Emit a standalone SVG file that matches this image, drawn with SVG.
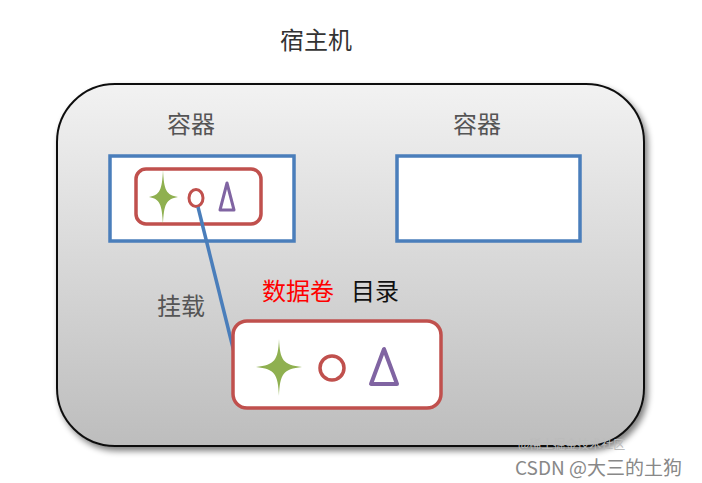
<svg xmlns="http://www.w3.org/2000/svg" width="702" height="483" viewBox="0 0 702 483">
<style>
.t{font-family:"Noto Sans CJK SC","Noto Sans",sans-serif;}
.blue{fill:#fff;stroke:#4a7ebb;stroke-width:3.5}
.red{fill:#fff;stroke:#c0504d;stroke-width:3.5}
.star{fill:#8fb050}
</style>
<defs>
<linearGradient id="g" x1="0" y1="0" x2="0" y2="1">
<stop offset="0" stop-color="#f2f2f2"/>
<stop offset="1" stop-color="#bdbdbd"/>
</linearGradient>
<filter id="sh" x="-10%" y="-10%" width="120%" height="120%">
<feGaussianBlur in="SourceAlpha" stdDeviation="3"/>
<feOffset dx="3" dy="4"/>
<feComponentTransfer><feFuncA type="linear" slope="0.5"/></feComponentTransfer>
<feMerge><feMergeNode/><feMergeNode in="SourceGraphic"/></feMerge>
</filter>
</defs>
<rect width="702" height="483" fill="#fff"/>
<text class="t" x="316" y="49" font-size="24" fill="#333" text-anchor="middle">宿主机</text>
<g id="host">
<rect x="57" y="84" width="587" height="362" rx="58" fill="url(#g)" stroke="#111" stroke-width="2" filter="url(#sh)"/>
</g>
<g id="container1">
<text class="t" x="191" y="133" font-size="24" fill="#555" text-anchor="middle">容器</text>
<rect class="blue" x="110" y="156" width="184" height="85"/>
<rect class="red" x="136" y="169" width="125" height="55" rx="10"/>
<path class="star" d="M163,170 C164,190 166,195 178,197 C166,199 164,204 163,225 C162,204 160,199 149,197 C160,195 162,190 163,170 Z"/>
<ellipse cx="196" cy="198" rx="7" ry="8.5" fill="none" stroke="#c0504d" stroke-width="3"/>
<path d="M227,183 L220,210 L234,210 Z" fill="none" stroke="#8064a2" stroke-width="3" stroke-linejoin="round"/>
</g>
<g id="container2">
<text class="t" x="477" y="133" font-size="24" fill="#555" text-anchor="middle">容器</text>
<rect class="blue" x="397" y="156" width="183" height="85"/>
</g>
<g id="connectors">
<line x1="198" y1="207" x2="234" y2="352" stroke="#4a7ebb" stroke-width="3.5"/>
<text class="t" x="181" y="315" font-size="24" fill="#555" text-anchor="middle">挂载</text>
</g>
<g id="volume">
<text class="t" x="262" y="300" font-size="24" fill="#f00">数据卷</text>
<text class="t" x="351" y="300" font-size="24" fill="#111">目录</text>
<rect class="red" x="233" y="321" width="208" height="87" rx="14"/>
<path class="star" d="M279,339 C280,360 283,365 302,367 C283,369 280,374 279,396 C278,374 275,369 256,367 C275,365 278,360 279,339 Z"/>
<circle cx="332" cy="368" r="12" fill="none" stroke="#c0504d" stroke-width="3.5"/>
<path d="M384,349 L371,384 L397,384 Z" fill="none" stroke="#8064a2" stroke-width="4" stroke-linejoin="round"/>
</g>
<text class="t" x="518" y="449" font-size="12" fill="#bbb">@稀土掘金技术社区</text>
<text class="t" x="515" y="475" font-size="19" fill="#888">CSDN @大三的土狗</text>
</svg>
